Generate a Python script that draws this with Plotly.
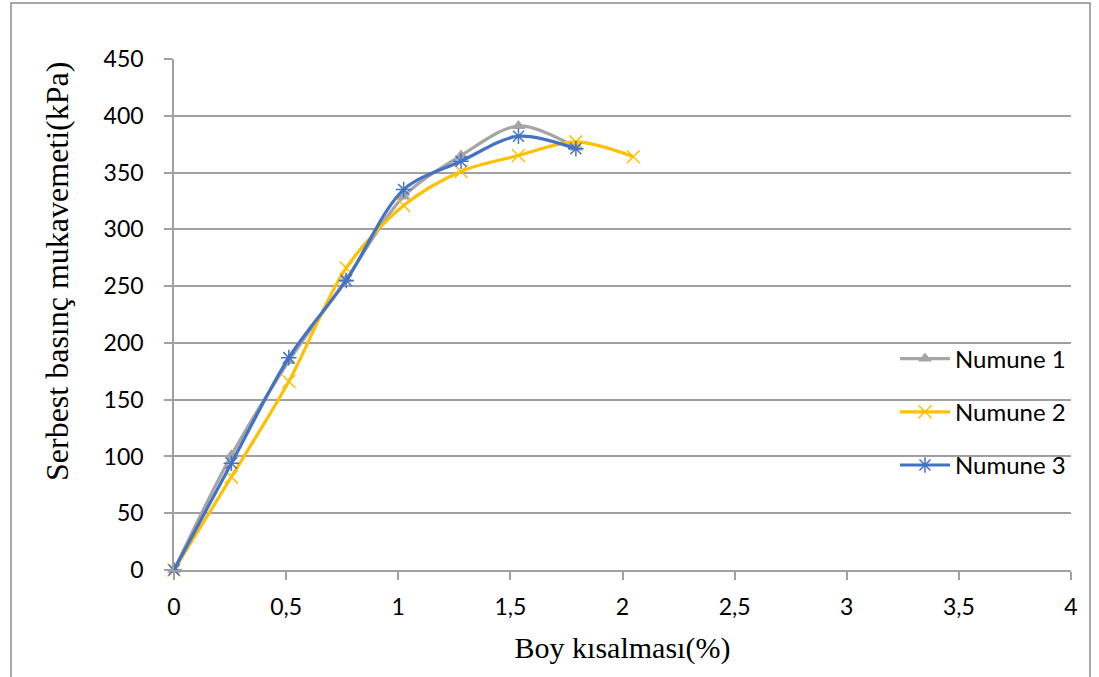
import plotly.graph_objects as go

# Axial strain (%) at each reading
strain = [0, 0.256, 0.512, 0.768, 1.024, 1.28, 1.536, 1.792, 2.048]

# Unconfined compressive strength (kPa) for each specimen
numune_1 = [0, 101, 184, 256, 329, 365, 391, 372]
numune_2 = [0, 82, 166, 266, 321, 351, 365, 377, 364]
numune_3 = [0, 94, 187, 255, 335, 360, 382, 371]

series_names = ["Numune 1", "Numune 2", "Numune 3"]
y_ticks = [0, 50, 100, 150, 200, 250, 300, 350, 400, 450]
x_ticks = [0, 0.5, 1, 1.5, 2, 2.5, 3, 3.5, 4]

GRAY = "#A5A5A5"
GOLD = "#FFC000"
BLUE = "#4472C4"
AXIS_GRAY = "#A0A0A0"

fig = go.Figure()

fig.add_trace(go.Scatter(
    x=strain[:len(numune_1)], y=numune_1, name=series_names[0],
    legendgroup="g1", mode="lines+markers",
    line=dict(color=GRAY, width=3.2, shape="spline", smoothing=0.9),
    marker=dict(symbol="triangle-up", size=12, color=GRAY),
    cliponaxis=False,
))
fig.add_trace(go.Scatter(
    x=strain[:len(numune_2)], y=numune_2, name=series_names[1],
    legendgroup="g2", mode="lines+markers",
    line=dict(color=GOLD, width=3.2, shape="spline", smoothing=0.9),
    marker=dict(symbol="x-thin-open", size=13, color=GOLD,
                line=dict(color=GOLD, width=1.5)),
    cliponaxis=False,
))
fig.add_trace(go.Scatter(
    x=strain[:len(numune_3)], y=numune_3, name=series_names[2],
    legendgroup="g3", mode="lines+markers",
    line=dict(color=BLUE, width=3.2, shape="spline", smoothing=0.9),
    marker=dict(symbol="asterisk-open", size=13, color=BLUE,
                line=dict(color=BLUE, width=1.5)),
    cliponaxis=False,
))

L, R, T, B = 174, 28, 59, 107
W, H = 1099, 677
pw, ph = W - L - R, H - T - B


def px_x(p):
    return (p - L) / pw


def px_y(p):
    return (H - B - p) / ph


fig.update_layout(
    width=W, height=H, autosize=False,
    margin=dict(l=L, r=R, t=T, b=B, pad=0),
    paper_bgcolor="white", plot_bgcolor="white",
    separators=", ",
    font=dict(family="Lato", size=23, color="black"),
    showlegend=True,
    legend=dict(
        x=px_x(895), y=px_y(412), xanchor="left", yanchor="middle",
        bgcolor="rgba(0,0,0,0)", borderwidth=0,
        font=dict(family="Lato", size=24, color="black"),
        tracegroupgap=19, itemwidth=50,
    ),
    xaxis=dict(
        range=[0, 4], tickvals=x_ticks, showgrid=False, zeroline=False,
        showline=True, linecolor=AXIS_GRAY, linewidth=1.5,
        ticks="outside", ticklen=8, tickcolor=AXIS_GRAY, tickwidth=1.5,
        ticklabelstandoff=8,
        tickfont=dict(family="Lato", size=23),
        title=dict(text="Boy kısalması(%)", standoff=18,
                   font=dict(family="Liberation Serif", size=30)),
    ),
    yaxis=dict(
        range=[0, 450], tickvals=y_ticks, showgrid=True,
        gridcolor=AXIS_GRAY, gridwidth=1.5, zeroline=False,
        showline=True, linecolor=AXIS_GRAY, linewidth=1.5,
        ticks="outside", ticklen=8, tickcolor=AXIS_GRAY, tickwidth=1.5,
        ticklabelstandoff=16,
        tickfont=dict(family="Lato", size=23),
    ),
    annotations=[dict(
        text="Serbest basınç mukavemeti(kPa)", textangle=-90,
        xref="paper", yref="paper", x=px_x(57), y=px_y(272),
        xanchor="center", yanchor="middle", showarrow=False,
        font=dict(family="Liberation Serif", size=32, color="black"),
    )],
    shapes=[dict(
        type="rect", xref="paper", yref="paper",
        x0=px_x(11), x1=px_x(1090), y0=px_y(700), y1=px_y(3),
        line=dict(color="#8C8C8C", width=1.5), fillcolor="rgba(0,0,0,0)",
        layer="below",
    )],
)

fig.write_html("out.html")
